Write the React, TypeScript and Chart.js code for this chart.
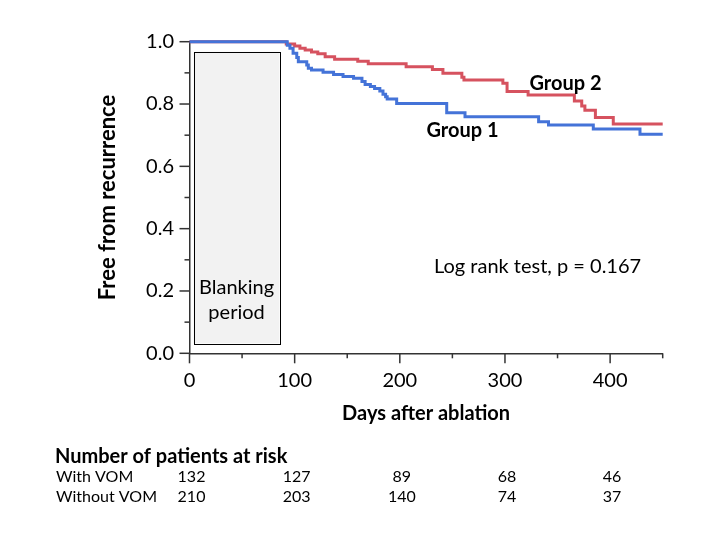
import React, { useEffect, useRef } from 'react';
import { Chart, registerables } from 'chart.js';

Chart.register(...registerables);

const FONT = 'Lato, "Open Sans", sans-serif';

// Kaplan–Meier steps: day at which survival drops, and new survival value
const group1Days = [0, 93, 95.5, 98.5, 102, 103.5, 111.5, 113, 116, 127, 137, 146, 156, 164, 167, 172, 176, 181, 184, 186.5, 188, 197, 244.6, 262, 332, 341.4, 384, 428.4, 450];
const group1Surv = [1.0, 0.989, 0.979, 0.963, 0.949, 0.936, 0.925, 0.915, 0.909, 0.902, 0.895, 0.888, 0.883, 0.872, 0.863, 0.856, 0.85, 0.842, 0.831, 0.823, 0.816, 0.802, 0.772, 0.759, 0.743, 0.733, 0.72, 0.703, 0.703];

const group2Days = [0, 92, 100, 105, 110, 116, 122, 129, 138, 160, 170, 206, 231, 241, 259, 261, 298, 302, 322, 366, 373, 376, 386, 403, 450];
const group2Surv = [1.0, 0.993, 0.986, 0.979, 0.973, 0.967, 0.961, 0.952, 0.944, 0.937, 0.929, 0.92, 0.911, 0.899, 0.886, 0.877, 0.867, 0.84, 0.829, 0.81, 0.794, 0.78, 0.757, 0.736, 0.736];

const riskDays = [0, 100, 200, 300, 400];
const withVOM = [132, 127, 89, 68, 46];
const withoutVOM = [210, 203, 140, 74, 37];
const riskRowLabels = ['With VOM', 'Without VOM'];

const blankingStart = 4;
const blankingEnd = 85.5;
const blankingTop = 0.968;
const blankingBottom = 0.032;

const toPoints = (xs: number[], ys: number[]) => xs.map((x, i) => ({ x, y: ys[i] }));

const decorPlugin = {
  id: 'decor',
  beforeDatasetsDraw(chart: any) {
    const { ctx, scales } = chart;
    const xs = scales.x, ys = scales.y;
    const x0 = xs.getPixelForValue(blankingStart);
    const x1 = xs.getPixelForValue(blankingEnd);
    const y0 = ys.getPixelForValue(blankingTop);
    const y1 = ys.getPixelForValue(blankingBottom);
    ctx.save();
    ctx.fillStyle = '#f2f2f2';
    ctx.fillRect(x0, y0, x1 - x0, y1 - y0);
    ctx.strokeStyle = '#000';
    ctx.lineWidth = 1;
    ctx.strokeRect(Math.round(x0) + 0.5, Math.round(y0) + 0.5, Math.round(x1 - x0), Math.round(y1 - y0));
    ctx.fillStyle = '#000';
    ctx.font = `20px ${FONT}`;
    ctx.textAlign = 'center';
    ctx.textBaseline = 'middle';
    const cx = (x0 + x1) / 2;
    ctx.fillText('Blanking', cx, ys.getPixelForValue(0.21));
    ctx.fillText('period', cx, ys.getPixelForValue(0.13));
    ctx.restore();
  },
  afterDraw(chart: any) {
    const { ctx, scales } = chart;
    const xs = scales.x, ys = scales.y;
    ctx.save();
    ctx.strokeStyle = '#333';
    ctx.lineWidth = 1.5;
    // x tick marks
    const xb = ys.getPixelForValue(0);
    for (let v = 0; v <= 450; v += 50) {
      const px = xs.getPixelForValue(v);
      const len = v % 100 === 0 ? 10 : 5;
      ctx.beginPath();
      ctx.moveTo(px, xb);
      ctx.lineTo(px, xb + len);
      ctx.stroke();
    }
    // y tick marks
    const yl = xs.getPixelForValue(0);
    for (let i = 0; i <= 10; i++) {
      const py = ys.getPixelForValue(i / 10);
      const len = i % 2 === 0 ? 10 : 5;
      ctx.beginPath();
      ctx.moveTo(yl, py);
      ctx.lineTo(yl - len, py);
      ctx.stroke();
    }
    // annotations
    ctx.fillStyle = '#000';
    ctx.textBaseline = 'middle';
    ctx.textAlign = 'center';
    ctx.font = `bold 20px ${FONT}`;
    ctx.fillText('Group 2', xs.getPixelForValue(357.6), ys.getPixelForValue(0.867));
    ctx.fillText('Group 1', xs.getPixelForValue(259.6), ys.getPixelForValue(0.716));
    ctx.font = `20px ${FONT}`;
    ctx.fillText('Log rank test, p = 0.167', xs.getPixelForValue(331), ys.getPixelForValue(0.28));

    // risk table
    ctx.textAlign = 'left';
    ctx.font = `bold 20px ${FONT}`;
    ctx.fillText('Number of patients at risk', 55, 457);
    ctx.font = `16px ${FONT}`;
    const rows = [withVOM, withoutVOM];
    rows.forEach((row, r) => {
      const y = 477 + r * 20;
      ctx.textAlign = 'left';
      ctx.fillText(riskRowLabels[r], 56, y);
      ctx.textAlign = 'center';
      row.forEach((n, i) => {
        ctx.fillText(String(n), xs.getPixelForValue(riskDays[i]) + 2, y);
      });
    });
    ctx.restore();
  },
};

export default function App() {
  const ref = useRef<HTMLCanvasElement | null>(null);
  useEffect(() => {
    document.body.style.margin = '0';
    const canvas = ref.current;
    if (!canvas) return;
    const chart = new Chart(canvas, {
      type: 'line',
      data: {
        datasets: [
          {
            label: 'Group 1',
            data: toPoints(group1Days, group1Surv),
            borderColor: '#4473d8',
            borderWidth: 3,
            stepped: 'before',
            pointRadius: 0,
            fill: false,
            clip: false as any,
          },
          {
            label: 'Group 2',
            data: toPoints(group2Days, group2Surv),
            borderColor: '#d6525f',
            borderWidth: 3,
            stepped: 'before',
            pointRadius: 0,
            fill: false,
            clip: false as any,
          },
        ],
      },
      options: {
        animation: false,
        responsive: false,
        maintainAspectRatio: false,
        layout: { padding: { left: 70, right: 54.3, top: 41.7, bottom: 108.7 } },
        plugins: { legend: { display: false }, tooltip: { enabled: false } },
        scales: {
          x: {
            type: 'linear',
            min: 0,
            max: 450,
            afterFit: (s: any) => { s.height = 80; },
            grid: { display: false, drawTicks: false },
            border: { display: true, color: '#333', width: 1.5 },
            ticks: {
              stepSize: 100,
              autoSkip: false,
              maxRotation: 0,
              padding: 15,
              color: '#000',
              font: { family: FONT, size: 20 },
              callback: (v: any) => (v % 100 === 0 && v < 450 ? String(v) : ''),
            },
            title: {
              display: true,
              text: 'Days after ablation',
              color: '#000',
              font: { family: FONT, size: 20, weight: 'bold' },
              padding: { top: 0, bottom: 8 },
            },
          },
          y: {
            type: 'linear',
            min: 0,
            max: 1,
            afterFit: (s: any) => { s.width = 119.5; },
            grid: { display: false, drawTicks: false },
            border: { display: true, color: '#333', width: 1.5 },
            ticks: {
              stepSize: 0.2,
              padding: 15.5,
              color: '#000',
              font: { family: FONT, size: 20 },
              callback: (v: any) => Number(v).toFixed(1),
            },
            title: {
              display: true,
              text: 'Free from recurrence',
              color: '#000',
              font: { family: FONT, size: 22, weight: 'bold' },
              padding: { top: 24.8, bottom: 0 },
            },
          },
        },
      },
      plugins: [decorPlugin],
    });
    return () => chart.destroy();
  }, []);
  return <canvas ref={ref} width={717} height={542} style={{ display: 'block', width: 717, height: 542 }} />;
}
